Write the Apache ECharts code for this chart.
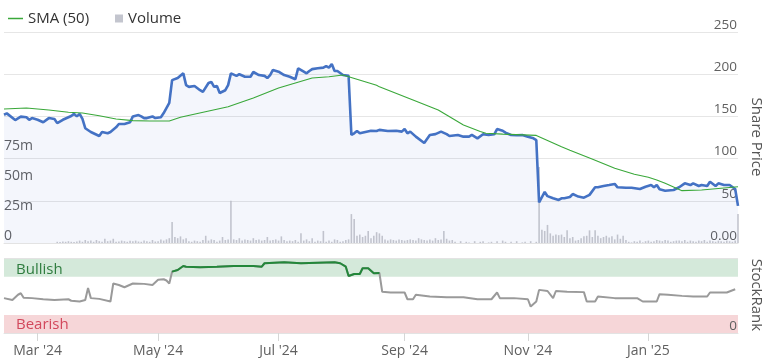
<!DOCTYPE html>
<html>
<head>
<meta charset="utf-8">
<script src="https://cdn.jsdelivr.net/npm/echarts@6/dist/echarts.min.js"></script>
<style>html,body{margin:0;padding:0;background:#fff}#c{width:762px;height:358px}</style>
</head>
<body>
<div id="c"></div>
<script>
// Categories: trading days (weekdays) from 14 Feb 2024 to 14 Feb 2025
const startDate = '2024-02-14';
const endDate = '2025-02-14';
const tickLabels = {
  '2024-03-01': "Mar '24", '2024-05-01': "May '24", '2024-07-01': "Jul '24",
  '2024-09-02': "Sep '24", '2024-11-01': "Nov '24", '2025-01-01': "Jan '25"
};
const categories = [];
(function () {
  const d = new Date(startDate + 'T00:00:00Z');
  const e = new Date(endDate + 'T00:00:00Z');
  while (d <= e) {
    const wd = d.getUTCDay();
    if (wd !== 0 && wd !== 6) categories.push(d.toISOString().slice(0, 10));
    d.setUTCDate(d.getUTCDate() + 1);
  }
})();

// Share price [trading-day index, price]
const price = [
  [0,152],[1,153.6],[4,145.7],[6,149.7],[8,149],[9,146],[10,148],[12,146],[14,143],[16,148],[18,147],[19,142],
  [21,146],[23,149],[24,150.5],[25,153],[26,150],[27,153],[28,147],[29,136],[31,131.5],[34,126.8],[35,131.5],
  [37,130],[38,131.5],[40,137],[41,141],[43,141],[45,143],[46,150],[48,151.6],[49,150],[50,148],[51,148],
  [53,150],[54,148],[56,149],[57,154],[59,166],[60,193],[62,195.5],[64,201],[65,187],[66,185],[68,186],
  [70,181],[71,179],[73,189.6],[74,190.8],[75,185],[76,186],[77,177.7],[79,181],[80,187],[81,201],[83,198],
  [84,200],[86,197],[88,197],[89,202.6],[91,199],[93,198],[94,195.5],[95,199],[96,205],[98,203],[100,199],
  [102,197],[103,195.5],[104,194],[105,207],[107,203],[108,201],[109,203.8],[110,206],[112,207],[114,207.8],
  [115,209.7],[116,207.8],[117,212],[118,203.8],[119,203.8],[121,199],[123,198],[124,128],[125,130],[126,132.7],
  [127,130],[129,131.5],[131,133],[133,132.7],[134,134],[137,132.7],[140,133],[142,132],[143,135],[144,130],
  [145,132],[147,126],[150,118.5],[152,128],[154,129],[156,132],[158,129],[159,126.8],[162,128],[164,126],
  [166,126],[167,128],[169,124],[171,128.8],[173,128],[175,128.8],[176,135],[178,133],[179,130.7],[181,128],
  [183,127.6],[185,128],[187,126],[189,124],[190,122],[191,48],[193,60.5],[194,55.5],[196,53],[198,51],
  [199,53],[200,53],[202,54.5],[203,58],[205,55],[207,53.7],[209,57],[211,66],[212,66],[214,67.5],[216,68.7],
  [218,70],[219,66],[222,65.5],[224,65.5],[227,64],[229,66.7],[231,68.7],[232,66],[233,68.7],[234,63.6],
  [236,62],[239,62.8],[241,66],[243,70.7],[245,68.7],[246,70.7],[248,67.5],[249,68.7],[251,67.5],[252,72.6],
  [254,67.5],[255,70.7],[257,68.7],[259,68.7],[261,64],[262,44]
];

// SMA (50) [trading-day index, value]
const sma50 = [
  [0,158.8],[8,160],[16,157.6],[23,155],[28,154],[34,150.8],[40,147],[46,145],[52,144.5],[59,144.5],
  [63,149],[65,150.5],[80,161.5],[89,171.8],[98,183.6],[104,189.6],[110,195.5],[116,197],[121,199],
  [133,187],[134,185],[146,169.4],[155,157.6],[158,151.7],[164,139.8],[170,132],[172,130],[178,129],
  [190,127.5],[199,114],[202,110],[209,100.7],[211,98],[218,88.5],[225,81.5],[230,77.8],[233,74.6],
  [236,70.7],[242,62],[249,62.8],[262,66.7]
];

// Volume (millions), one per trading day
const volume = [
  null,null,null,null,null,null,null,null,null,null,null,null,null,null,null,null,null,null,null,
  1,0.8,1.2,1,1.5,1,0.8,1.2,2,1,
  2.5,1.5,2,1,2.5,1.5,1,3.5,1.5,2,3.5,1,
  1.2,2,1.5,1,1.8,1.5,2,1.2,1,2,1.5,1,2.5,1.2,1.5,3,2,
  3,4,17.5,5,4,5.5,3,4,1.5,
  1,2,1.5,1,2.5,6,2,3,2.5,1,2,5,2.5,3,
  35,
  3,2.5,4,2,3,2.5,2,4,2.5,3,2,2.5,5,2,2.5,3,2,5.5,2.5,
  1.5,2,1.5,2.5,1,8,2,3,1.5,4,1,2,1.5,10,1,2,1,3,2.5,1,
  1.5,2.5,3,
  24,20,6,7,5,6,10,4,6,9,8,6,
  3,2,3,2.5,2,3,2.5,2,2.5,3,2.5,2,4,3,2.5,
  2,3,2,4,2.5,3,10,3.5,2,2.5,
  1,0,1.5,0,1,0.5,0,1.5,0,1,1.5,0,0.5,1,0,1.5,0,2,1,0,1,0,1.5,0,0.5,1,0,1.5,0,1,
  63,11,10,15,8,6,7,6.5,7,5,10.5,4,5,2,2.5,
  4,5.5,6,10.5,5,10.5,6,4,5,6,4.5,5.5,3,7,3.5,6,2.5,
  1,0.5,1.5,1,2,0.5,1.5,2,1,1.5,2.5,2,1.5,2.5,2,1,1.5,2,
  2,1.5,2.5,1,2,1.5,1,2,1.5,2.5,1,2,1.5,1,2,1.5,1,2,1.5,1,2,
  24
];

// StockRank [trading-day index, rank]
const stockRank = [
  [0,46.5],[3,44],[5,51],[6,53],[7,47],[10,46.5],[14,45],[18,44],[23,45],[24,43],[27,42],[29,44],[30,60],
  [31,46.5],[34,45.5],[38,42],[39,66],[41,64],[43,61],[46,66],[50,65.5],[53,64],[55,71],[57,71.7],[58,70],
  [59,66],[60,81.8],[62,84],[64,89.4],[65,88.4],[70,87.6],[76,88.4],[82,89.4],[89,89.4],[92,88.4],[93,93],
  [100,94.3],[106,93],[112,93.8],[118,94.3],[120,93],[122,88.4],[123,76],[125,78.7],[127,78.7],[128,86.3],
  [130,86.3],[132,79.7],[134,80],[135,55],[138,54],[143,54],[144,45],[146,45],[147,51],[152,48.6],[158,47.8],
  [164,47.8],[169,45],[174,45],[176,54],[177,46.5],[182,46.5],[187,45],[188,35.3],[190,42],[191,57.5],
  [194,56],[196,46.5],[197,56],[201,55],[207,54.5],[208,42],[211,42],[212,48.6],[218,46.5],[226,46.5],
  [228,42],[233,42],[234,51.8],[237,51],[242,49.5],[246,48.6],[251,48.6],[252,54],[258,54],[261,58.4]
];
const bullishLevel = 75;
const bearishLevel = 24;

const FONT = 'Open Sans';
const LABEL = '#606060';
const chart = echarts.init(document.getElementById('c'), null, {renderer: 'canvas'});
const isTick = (i, v) => tickLabels[v] !== undefined;
// Bullish part of the StockRank line (points at or above the bullish level)
const rankBullish = stockRank.map(p => p[1] >= bullishLevel ? p : [p[0], null]);

chart.setOption({
  animation: false,
  textStyle: {fontFamily: FONT},
  legend: [
    {data: ['SMA (50)'], left: 3, top: 6, icon: 'rect', itemWidth: 15, itemHeight: 1.5, itemGap: 6,
     textStyle: {fontFamily: FONT, fontSize: 15, color: '#333'}},
    {data: ['Volume'], left: 110, top: 6, icon: 'rect', itemWidth: 8, itemHeight: 8,
     textStyle: {fontFamily: FONT, fontSize: 15, color: '#333'}}
  ],
  graphic: [
    {type: 'text', x: 756, y: 137, rotation: -Math.PI / 2, silent: true,
     style: {text: 'Share Price', fill: '#555', font: '15px "Open Sans"', textAlign: 'center', textVerticalAlign: 'middle'}},
    {type: 'text', x: 756, y: 295, rotation: -Math.PI / 2, silent: true,
     style: {text: 'StockRank', fill: '#555', font: '15px "Open Sans"', textAlign: 'center', textVerticalAlign: 'middle'}}
  ],
  grid: [
    {left: 4, right: 24, top: 32, height: 211},
    {left: 4, right: 24, top: 258, height: 75}
  ],
  xAxis: [
    {type: 'category', gridIndex: 0, data: categories, boundaryGap: false,
     axisLine: {show: true, lineStyle: {color: '#e3e3e3'}}, axisTick: {show: false}, axisLabel: {show: false},
     splitLine: {show: false}},
    {type: 'category', gridIndex: 1, data: categories, boundaryGap: false, z: 10,
     axisLine: {show: true, lineStyle: {color: '#e3e3e3'}},
     axisTick: {show: true, interval: isTick, length: 8, lineStyle: {color: '#d6d6d6'}},
     axisLabel: {interval: isTick, formatter: v => tickLabels[v] || '', color: LABEL, fontSize: 14,
                 fontFamily: FONT, margin: 11},
     splitLine: {show: false}}
  ],
  yAxis: [
    {type: 'value', gridIndex: 0, position: 'left', min: 0, max: 175, interval: 25,
     axisLine: {show: false}, axisTick: {show: false}, splitLine: {show: false},
     axisLabel: {inside: true, margin: 0, verticalAlign: 'bottom', color: LABEL, fontSize: 14, fontFamily: FONT,
                 formatter: v => v === 0 ? '0' : (v <= 75 ? v + 'm' : '')}},
    {type: 'value', gridIndex: 0, position: 'right', min: 0, max: 250, interval: 50,
     axisLine: {show: false}, axisTick: {show: false},
     splitLine: {show: true, lineStyle: {color: '#e6e6e6'}},
     axisLabel: {inside: true, margin: 1, verticalAlign: 'bottom', color: LABEL, fontSize: 13.5, fontFamily: FONT,
                 formatter: v => v === 0 ? '0.00' : String(v)}},
    {type: 'value', gridIndex: 1, position: 'right', min: 0, max: 100, interval: 100, z: 10,
     axisLine: {show: false}, axisTick: {show: false},
     splitLine: {show: true, lineStyle: {color: '#e3e3e3'}},
     axisLabel: {inside: true, margin: 1, verticalAlign: 'bottom', color: LABEL, fontSize: 13.5, fontFamily: FONT,
                 formatter: v => v === 0 ? '0' : ''}}
  ],
  series: [
    {name: 'priceArea', type: 'line', xAxisIndex: 0, yAxisIndex: 1, data: price, symbol: 'none',
     lineStyle: {width: 0, opacity: 0}, areaStyle: {color: 'rgba(70,100,200,0.06)', opacity: 1}, z: 1, silent: true},
    {name: 'Volume', type: 'bar', xAxisIndex: 0, yAxisIndex: 0, data: volume, barWidth: 1.6,
     itemStyle: {color: '#b9bbc5', opacity: 0.85}, z: 2, silent: true},
    {name: 'Share Price', type: 'line', xAxisIndex: 0, yAxisIndex: 1, data: price, symbol: 'none',
     lineStyle: {color: '#4472c4', width: 2.6}, itemStyle: {color: '#4472c4'}, z: 3},
    {name: 'SMA (50)', type: 'line', xAxisIndex: 0, yAxisIndex: 1, data: sma50, symbol: 'none',
     lineStyle: {color: '#3aa83a', width: 1.1}, itemStyle: {color: '#3aa83a'}, z: 4},
    {name: 'StockRank', type: 'line', xAxisIndex: 1, yAxisIndex: 2, data: stockRank, symbol: 'none',
     lineStyle: {width: 2, color: '#9a9a9a'}, itemStyle: {color: '#9a9a9a'}, z: 4,
     markArea: {silent: true, data: [
       [{yAxis: bullishLevel, itemStyle: {color: '#d4e9da'},
         label: {show: true, position: 'insideLeft', formatter: 'Bullish', color: '#2f7d3f', fontSize: 15,
                 fontFamily: FONT, offset: [7, 2]}}, {yAxis: 100}],
       [{yAxis: 0, itemStyle: {color: '#f6d6d8'},
         label: {show: true, position: 'insideLeft', formatter: 'Bearish', color: '#d2485c', fontSize: 15,
                 fontFamily: FONT, offset: [7, 1]}}, {yAxis: bearishLevel}]
     ]}},
    {name: 'StockRankBullish', type: 'line', xAxisIndex: 1, yAxisIndex: 2, data: rankBullish, symbol: 'none',
     connectNulls: false, lineStyle: {width: 2, color: '#23873a'}, itemStyle: {color: '#23873a'}, z: 5}
  ]
});
</script>
</body>
</html>
